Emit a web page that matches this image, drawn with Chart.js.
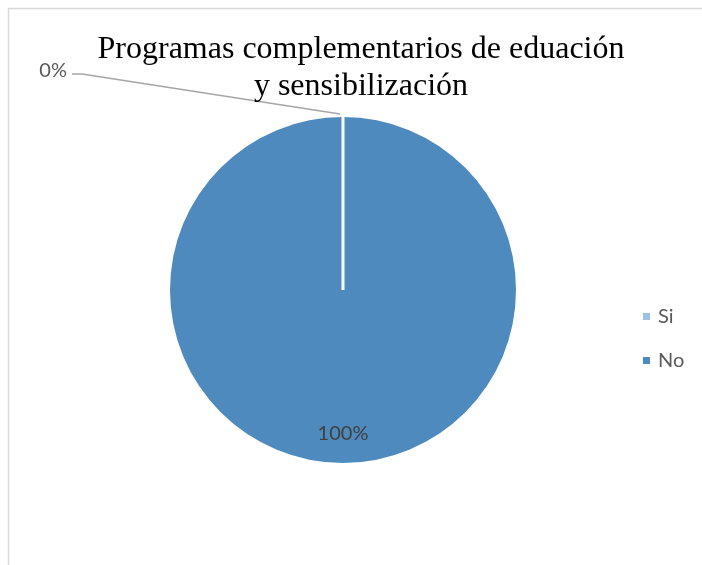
<!DOCTYPE html>
<html>
<head>
<meta charset="utf-8">
<script src="https://cdn.jsdelivr.net/npm/chart.js@4.4.1/dist/chart.umd.min.js"></script>
<style>
  html, body { margin: 0; padding: 0; background: #fff; }
</style>
</head>
<body>
<canvas id="pie" width="702" height="565"></canvas>
<script>
const titleLines = ['Programas complementarios de eduación', 'y sensibilización'];
const categories = ['Si', 'No'];
const shares = [0, 100];
const sliceColors = ['#9dc0e4', '#4f8abe'];

const labelFont = '20px Lato, "Open Sans", sans-serif';

// light frame around the whole chart, open on the right and bottom
const framePlugin = {
  id: 'frame',
  beforeDraw(chart) {
    const { ctx } = chart;
    ctx.save();
    ctx.fillStyle = '#fff';
    ctx.fillRect(0, 0, chart.width, chart.height);
    ctx.strokeStyle = '#d9d9d9';
    ctx.lineWidth = 1.5;
    ctx.strokeRect(8.5, 8.5, chart.width + 20, chart.height + 20);
    ctx.restore();
  }
};

const titlePlugin = {
  id: 'serifTitle',
  afterDraw(chart) {
    const { ctx } = chart;
    ctx.save();
    ctx.font = '32px "Liberation Serif", "Times New Roman", serif';
    ctx.fillStyle = '#000';
    ctx.textAlign = 'center';
    ctx.textBaseline = 'middle';
    ctx.fillText(titleLines[0], 361, 50);
    ctx.fillText(titleLines[1], 361, 87);
    ctx.restore();
  }
};

// percentage labels, leader line for the empty slice, white separator
const sliceLabels = {
  id: 'sliceLabels',
  afterDatasetsDraw(chart) {
    const { ctx } = chart;
    const meta = chart.getDatasetMeta(0);
    const total = shares.reduce((a, b) => a + b, 0);
    ctx.save();
    meta.data.forEach((arc, i) => {
      const { x, y, startAngle, endAngle, outerRadius } = arc.getProps(['x', 'y', 'startAngle', 'endAngle', 'outerRadius'], true);
      const text = Math.round(shares[i] / total * 100) + '%';
      ctx.font = labelFont;
      if (shares[i] === 0) {
        const ex = x + Math.cos(startAngle) * (outerRadius + 2);
        const ey = y + Math.sin(startAngle) * (outerRadius + 2);
        ctx.strokeStyle = '#fff';
        ctx.lineWidth = 3;
        ctx.beginPath();
        ctx.moveTo(x, y);
        ctx.lineTo(ex, ey);
        ctx.stroke();
        // leader line to the label
        const lx = ex - 271, ly = ey - 41;
        ctx.strokeStyle = '#a6a6a6';
        ctx.lineWidth = 1.5;
        ctx.beginPath();
        ctx.moveTo(ex - 3, ey - 1);
        ctx.lineTo(lx + 10, ly);
        ctx.lineTo(lx, ly);
        ctx.stroke();
        ctx.fillStyle = '#595959';
        ctx.textAlign = 'right';
        ctx.textBaseline = 'middle';
        ctx.fillText(text, lx - 5, ly - 3);
      } else {
        const mid = (startAngle + endAngle) / 2;
        const r = outerRadius * 0.83;
        ctx.fillStyle = '#404040';
        ctx.textAlign = 'center';
        ctx.textBaseline = 'middle';
        ctx.fillText(text, x + Math.cos(mid) * r, y + Math.sin(mid) * r);
      }
    });
    ctx.restore();
  }
};

const sideLegend = {
  id: 'sideLegend',
  afterDraw(chart) {
    const { ctx } = chart;
    ctx.save();
    ctx.font = labelFont;
    ctx.textBaseline = 'middle';
    categories.forEach((name, i) => {
      const cy = 317 + i * 44;
      ctx.fillStyle = sliceColors[i];
      ctx.fillRect(643, cy - 4, 7, 7);
      ctx.fillStyle = '#595959';
      ctx.fillText(name, 658, cy);
    });
    ctx.restore();
  }
};

new Chart(document.getElementById('pie'), {
  type: 'pie',
  data: {
    labels: categories,
    datasets: [{
      data: shares,
      backgroundColor: sliceColors,
      borderColor: '#fff',
      borderWidth: 0
    }]
  },
  options: {
    responsive: false,
    animation: false,
    layout: { padding: { top: 117, bottom: 102, left: 100, right: 116 } },
    plugins: {
      legend: { display: false },
      title: { display: false },
      tooltip: { enabled: false }
    }
  },
  plugins: [framePlugin, titlePlugin, sliceLabels, sideLegend]
});
</script>
</body>
</html>
